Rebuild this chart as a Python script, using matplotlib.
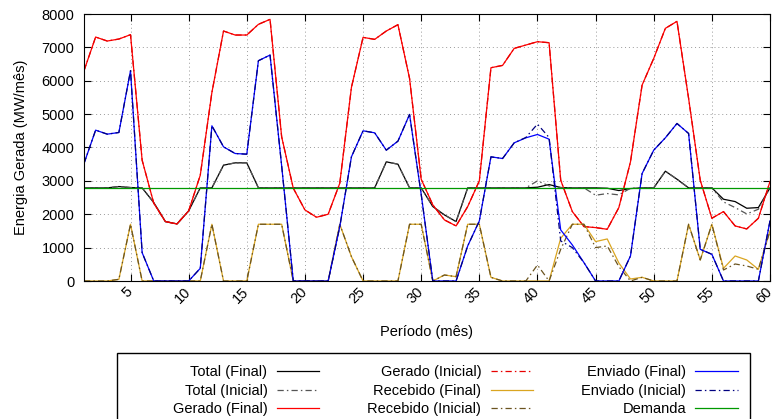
import numpy as np
import matplotlib
matplotlib.use('Agg')
from matplotlib import pyplot as plt
from matplotlib.patches import Rectangle

plt.rcParams['font.family'] = ['Liberation Sans', 'DejaVu Sans']
plt.rcParams['font.size'] = 10.5

meses = np.arange(1, 61)

gerado_final = [6300, 7310, 7190, 7250, 7380, 3620, 2330, 1780, 1710, 2100,
                3170, 5650, 7490, 7370, 7370, 7690, 7840, 4320, 2780, 2130,
                1910, 2000, 2930, 5800, 7300, 7240, 7490, 7680, 6070, 3050,
                2280, 1830, 1650, 2230, 3000, 6390, 6460, 6970, 7070, 7170,
                7140, 3020, 2080, 1630, 1600, 1550, 2200, 3570, 5870, 6670,
                7570, 7780, 5470, 3020, 1880, 2080, 1650, 1560, 1880, 2980]
gerado_inicial = list(gerado_final)

enviado_final = [3520, 4520, 4400, 4450, 6300, 850, 0, 0, 0, 0,
                 380, 4650, 4020, 3820, 3800, 6600, 6770, 3450, 0, 0,
                 0, 0, 1630, 3720, 4500, 4440, 3920, 4190, 4990, 2600,
                 0, 0, 0, 1050, 1800, 3720, 3670, 4140, 4290, 4390,
                 4250, 1530, 1080, 550, 0, 0, 0, 750, 3220, 3920,
                 4290, 4720, 4420, 950, 800, 0, 0, 0, 0, 1800]
enviado_inicial = [3520, 4520, 4400, 4450, 6300, 850, 0, 0, 0, 0,
                   380, 4650, 4020, 3820, 3800, 6600, 6770, 3450, 0, 0,
                   0, 0, 1630, 3720, 4500, 4440, 3920, 4190, 4990, 2600,
                   0, 0, 0, 1050, 1800, 3720, 3670, 4140, 4300, 4700,
                   4300, 1200, 1000, 550, 0, 0, 0, 750, 3220, 3920,
                   4290, 4720, 4420, 950, 800, 0, 0, 0, 0, 1800]

recebido_final = [0, 0, 0, 50, 1700, 0, 0, 0, 0, 0,
                  0, 1700, 0, 0, 0, 1700, 1700, 1700, 0, 0,
                  0, 0, 1700, 730, 0, 0, 0, 0, 1700, 1700,
                  0, 180, 130, 1700, 1700, 110, 0, 0, 0, 0,
                  0, 1280, 1700, 1700, 1180, 1260, 540, 60, 110, 0,
                  0, 0, 1700, 630, 1700, 380, 750, 630, 350, 1500]
recebido_inicial = [0, 0, 0, 50, 1700, 0, 0, 0, 0, 0,
                    0, 1700, 0, 0, 0, 1700, 1700, 1700, 0, 0,
                    0, 0, 1700, 730, 0, 0, 0, 0, 1700, 1700,
                    0, 180, 130, 1700, 1700, 110, 0, 0, 0, 480,
                    0, 950, 1700, 1700, 1000, 1050, 430, 0, 110, 0,
                    0, 0, 1700, 630, 1700, 330, 510, 450, 350, 1500]

total_final = [2790, 2790, 2790, 2830, 2800, 2790, 2350, 1780, 1710, 2100,
               2790, 2790, 3470, 3540, 3540, 2790, 2790, 2790, 2790, 2790,
               2790, 2790, 2790, 2790, 2790, 2790, 3570, 3500, 2790, 2790,
               2230, 1980, 1780, 2790, 2790, 2790, 2790, 2790, 2790, 2810,
               2890, 2800, 2790, 2790, 2790, 2780, 2710, 2770, 2790, 2790,
               3290, 3050, 2790, 2790, 2790, 2450, 2380, 2180, 2200, 2790]
total_inicial = [2790, 2790, 2790, 2830, 2800, 2790, 2350, 1780, 1710, 2100,
                 2790, 2790, 3470, 3540, 3540, 2790, 2790, 2790, 2790, 2790,
                 2790, 2790, 2790, 2790, 2790, 2790, 3570, 3500, 2790, 2790,
                 2230, 1980, 1780, 2790, 2790, 2790, 2790, 2790, 2790, 3000,
                 2850, 2800, 2790, 2790, 2570, 2620, 2580, 2780, 2790, 2790,
                 3290, 3050, 2790, 2790, 2790, 2370, 2200, 2010, 2150, 2790]

demanda = [2785] * 60

dashdot = (0, (5, 2.5, 1.2, 2.5))
lw = 0.9

fig = plt.figure(figsize=(7.75, 4.19), dpi=100)
ax = fig.add_axes([84 / 775, 1 - 281 / 419, 686 / 775, 267 / 419])

ax.plot(meses, total_final, color='black', lw=lw, label='Total (Final)')
ax.plot(meses, total_inicial, color='#555555', lw=lw, ls=dashdot, label='Total (Inicial)')
ax.plot(meses, gerado_final, color='#ff0000', lw=lw, label='Gerado (Final)')
ax.plot(meses, gerado_inicial, color='#e80000', lw=lw, ls=dashdot, label='Gerado (Inicial)')
ax.plot(meses, recebido_final, color='#daa520', lw=lw, label='Recebido (Final)')
ax.plot(meses, recebido_inicial, color='#6b5420', lw=lw, ls=dashdot, label='Recebido (Inicial)')
ax.plot(meses, enviado_final, color='#0000ff', lw=lw, label='Enviado (Final)')
ax.plot(meses, enviado_inicial, color='#000080', lw=lw, ls=dashdot, label='Enviado (Inicial)')
ax.plot(meses, demanda, color='#009900', lw=lw, label='Demanda')

ax.set_xlim(1, 60)
ax.set_ylim(0, 8000)
ax.set_xticks(range(5, 61, 5))
ax.set_yticks(range(0, 8001, 1000))
ax.tick_params(direction='in', top=True, right=True, length=5, width=0.8)
ax.tick_params(axis='y', pad=7)
ax.tick_params(axis='x', pad=6)
for lab in ax.get_xticklabels():
    lab.set_rotation(45)
    lab.set_rotation_mode('anchor')
    lab.set_ha('right')
    lab.set_va('center')
ax.grid(True, color='#999999', lw=0.7, ls=(0, (1, 3)))
ax.set_xlabel('Período (mês)', labelpad=14)
ax.set_ylabel('Energia Gerada (MW/mês)', labelpad=10)

fig.legend(loc='upper right', bbox_to_anchor=(745 / 775, 1 - 358 / 419),
           ncol=3, markerfirst=False, frameon=False, borderpad=0,
           handlelength=2.9, handletextpad=0.65, columnspacing=3.3,
           labelspacing=0.3, fontsize=10.5)
fig.patches.append(Rectangle((117 / 775, -0.05), (750 - 117) / 775, 0.05 + 1 - 353 / 419,
                             transform=fig.transFigure, fill=False, lw=1, ec='black'))

fig.savefig('out.png', dpi=100)
